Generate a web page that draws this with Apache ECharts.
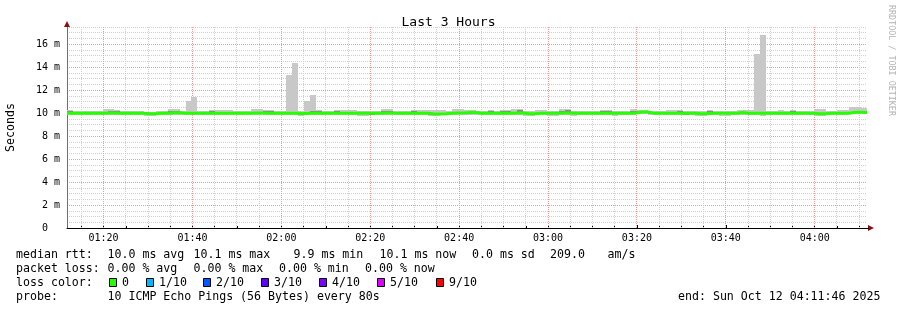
<!DOCTYPE html>
<html><head><meta charset="utf-8">
<script src="https://cdn.jsdelivr.net/npm/echarts@6/dist/echarts.min.js"></script>
<style>html,body{margin:0;padding:0;background:#fff}#c{width:897px;height:310px}</style>
</head><body><div id="c"></div>
<script>
// time window (seconds of day): 01:11:46 .. 04:11:46, 80 s steps
const startTime = '01:11:46';
const endTime = '04:11:46';
const stepSeconds = 80;

// median RTT per step (ms)
const medianRtt = [
10.0,10.0,10.0,10.0,9.98,10.0,10.02,10.02,10.0,10.0,
10.0,10.0,10.0,9.95,9.95,10.0,10.0,10.03,10.03,10.0,
10.0,10.0,10.0,10.0,10.0,10.0,10.0,10.0,10.0,10.0,
10.0,10.02,10.02,10.0,10.0,10.0,10.0,10.0,10.0,9.95,
10.0,10.0,10.0,10.0,10.0,10.0,10.0,10.0,10.0,9.98,
9.98,10.0,10.0,10.02,10.02,9.98,10.0,10.0,10.0,10.0,
10.0,9.93,9.93,9.95,10.0,10.02,10.02,10.05,10.05,10.0,
10.0,10.0,10.0,10.0,10.0,10.02,10.02,9.95,9.95,10.0,
10.0,10.0,10.0,10.02,10.02,10.0,10.0,10.0,10.0,10.0,
10.0,10.0,9.98,10.0,10.0,10.02,10.1,10.1,10.0,10.0,
10.0,10.0,10.0,10.0,9.98,10.0,9.95,9.95,10.0,10.0,
10.0,10.0,10.0,10.05,10.0,10.0,10.0,10.0,10.0,10.0,
10.0,10.0,10.0,10.0,10.0,10.0,9.95,9.95,10.0,10.0,
10.0,10.0,10.08,10.08,10.05];
// lowest ping per step (ms)
const pingMin = [
9.88,9.86,9.82,9.85,9.8,9.85,9.86,9.88,9.88,9.85,
9.82,9.82,9.86,9.78,9.78,9.85,9.86,9.88,9.88,9.86,
9.85,9.8,9.8,9.82,9.86,9.86,9.86,9.85,9.82,9.85,
9.82,9.88,9.88,9.86,9.86,9.85,9.86,9.86,9.85,9.76,
9.86,9.86,9.88,9.86,9.86,9.85,9.86,9.86,9.86,9.72,
9.72,9.8,9.82,9.88,9.88,9.85,9.8,9.86,9.86,9.88,
9.86,9.78,9.78,9.8,9.85,9.88,9.88,9.85,9.85,9.86,
9.86,9.88,9.85,9.86,9.86,9.88,9.88,9.78,9.78,9.85,
9.85,9.72,9.75,9.88,9.88,9.78,9.8,9.86,9.86,9.85,
9.86,9.86,9.76,9.85,9.86,9.88,9.9,9.9,9.82,9.82,
9.86,9.86,9.86,9.86,9.82,9.85,9.78,9.78,9.86,9.85,
9.78,9.78,9.8,9.88,9.86,9.86,9.8,9.76,9.82,9.82,
9.86,9.85,9.86,9.85,9.85,9.86,9.78,9.78,9.85,9.85,
9.86,9.86,9.9,9.9,9.9];
// highest ping per step (ms)
const pingMax = [
10.25,10.22,10.22,10.18,10.16,10.18,10.33,10.33,10.24,10.18,
10.18,10.18,10.22,10.12,10.12,10.2,10.18,10.4,10.4,10.22,
11.07,11.42,10.18,10.18,10.24,10.28,10.28,10.24,10.18,10.22,
10.18,10.38,10.38,10.26,10.25,10.2,10.2,13.33,14.37,10.18,
11.07,11.57,10.25,10.22,10.22,10.25,10.3,10.3,10.26,10.18,
10.18,10.2,10.2,10.38,10.38,10.18,10.18,10.22,10.25,10.28,
10.26,10.26,10.26,10.25,10.2,10.35,10.35,10.25,10.25,10.2,
10.22,10.3,10.2,10.28,10.28,10.4,10.4,10.18,10.18,10.3,
10.3,10.18,10.18,10.4,10.4,10.2,10.2,10.22,10.2,10.22,
10.28,10.28,10.18,10.2,10.22,10.4,10.28,10.28,10.2,10.2,
10.22,10.28,10.28,10.3,10.2,10.2,10.16,10.16,10.25,10.2,
10.18,10.18,10.18,10.26,10.3,10.3,15.19,16.78,10.2,10.2,
10.25,10.2,10.3,10.2,10.22,10.22,10.4,10.4,10.2,10.2,
10.3,10.3,10.55,10.55,10.45];
// inner (dense) smoke band per step (ms)
const innerLow = [
9.97,9.97,9.97,9.9,9.95,9.9,9.98,9.98,9.97,9.96,
9.9,9.9,9.97,9.9,9.9,9.92,9.96,9.98,9.98,9.97,
9.96,9.95,9.93,9.95,9.97,9.97,9.97,9.96,9.9,9.96,
9.9,9.98,9.98,9.97,9.97,9.96,9.96,9.97,9.96,9.88,
9.97,9.97,9.97,9.97,9.97,9.96,9.97,9.97,9.97,9.9,
9.9,9.88,9.92,9.98,9.98,9.92,9.95,9.97,9.97,9.97,
9.97,9.88,9.88,9.9,9.96,9.98,9.98,9.9,9.9,9.96,
9.96,9.97,9.96,9.97,9.97,9.98,9.98,9.9,9.9,9.92,
9.92,9.9,9.92,9.98,9.98,9.92,9.93,9.96,9.96,9.96,
9.97,9.97,9.9,9.96,9.96,9.9,9.98,9.98,9.9,9.9,
9.96,9.97,9.97,9.97,9.88,9.96,9.9,9.9,9.97,9.96,
9.92,9.92,9.94,9.98,9.97,9.97,9.95,9.93,9.9,9.9,
9.97,9.96,9.97,9.96,9.96,9.96,9.9,9.9,9.96,9.96,
9.97,9.97,9.98,9.98,9.98];
const innerHigh = [
10.18,10.05,10.05,10.03,10.02,10.03,10.12,10.2,10.16,10.04,
10.03,10.03,10.05,10.0,10.0,10.05,10.04,10.15,10.2,10.05,
10.05,10.05,10.04,10.04,10.15,10.06,10.06,10.12,10.03,10.05,
10.03,10.1,10.1,10.18,10.18,10.05,10.05,10.1,10.1,10.02,
10.08,10.15,10.18,10.1,10.1,10.18,10.12,10.12,10.1,10.03,
10.03,10.05,10.05,10.2,10.2,10.03,10.04,10.05,10.18,10.08,
10.06,10.03,10.03,10.05,10.05,10.1,10.1,10.1,10.1,10.05,
10.05,10.2,10.05,10.15,10.15,10.12,10.28,10.02,10.02,10.05,
10.05,10.03,10.03,10.15,10.28,10.05,10.05,10.05,10.05,10.05,
10.15,10.15,10.03,10.05,10.05,10.2,10.15,10.15,10.05,10.05,
10.05,10.08,10.08,10.2,10.04,10.05,10.02,10.02,10.18,10.05,
10.04,10.04,10.04,10.1,10.1,10.1,10.06,10.06,10.05,10.05,
10.12,10.05,10.18,10.05,10.05,10.05,10.05,10.05,10.05,10.05,
10.1,10.1,10.12,10.12,10.1];

const xLabelTimes = ['01:20','01:40','02:00','02:20','02:40','03:00','03:20','03:40','04:00'];
const xMinorGridTimes = ['01:15','01:25','01:30','01:35','01:45','01:50','01:55',
'02:05','02:10','02:15','02:25','02:30','02:35','02:45','02:50','02:55',
'03:05','03:10','03:15','03:25','03:30','03:35','03:45','03:50','03:55',
'04:05','04:10'];
const yMax = 17.5;
const yLabelStep = 2;
const yGridStep = 0.5;

const legendRtt = [['median rtt:',16],['10.0 ms avg',107.5],['10.1 ms max',193.5],['9.9 ms min',293.5],['10.1 ms now',379.5],['0.0 ms sd',472],['209.0',550],['am/s',607.5]];
const legendLoss = [['packet loss:',16],['0.00 % avg',107.5],['0.00 % max',193.5],['0.00 % min',279],['0.00 % now',365]];
const lossColorNames = ['0','1/10','2/10','3/10','4/10','5/10','9/10'];
const lossColors = ['#26ff00','#00b8ff','#0059ff','#5e00ff','#7e00ff','#dd00ff','#ff0000'];
const lossBoxX = [109,146,203,261,319,377,436];
const probeText = '10 ICMP Echo Pings (56 Bytes) every 80s';
const endText = 'end: Sun Oct 12 04:11:46 2025';

function toSec(s){const p=s.split(':').map(Number);return p[0]*3600+p[1]*60+(p[2]||0);}
function fmt(sec){const h=Math.floor(sec/3600),m=Math.floor((sec%3600)/60);return String(h).padStart(2,'0')+':'+String(m).padStart(2,'0');}
const t0 = toSec(startTime), t1 = toSec(endTime);

const MONO = "'DejaVu Sans Mono', monospace";
const chart = echarts.init(document.getElementById('c'), null, {renderer:'canvas'});

function bandSeries(lowArr, highArr, color, z){
  return {
    type:'custom', z:z, silent:true, animation:false, clip:true,
    encode:{x:[0,1], y:[2,3]},
    data: lowArr.map((lo,i)=>[t0+i*stepSeconds, t0+(i+1)*stepSeconds, lo, highArr[i]]),
    renderItem:(params, api)=>{
      const a = api.coord([api.value(0), api.value(3)]);
      const b = api.coord([api.value(1), api.value(2)]);
      const x0=Math.round(a[0]), x1=Math.round(b[0]), y0=Math.round(a[1]), y1=Math.round(b[1]);
      return {type:'rect', shape:{x:x0, y:y0, width:x1-x0, height:Math.max(1,y1-y0)}, style:{fill:color}};
    }
  };
}
// vertical grid lines at given times, drawn through the x scale
function vGridSeries(times, color, z){
  return {
    type:'custom', z:z, silent:true, animation:false,
    encode:{x:0},
    data: times.map(t=>[toSec(t)]),
    renderItem:(params, api)=>{
      const top = api.coord([api.value(0), yMax]);
      const bot = api.coord([api.value(0), 0]);
      const x = Math.floor(top[0]) + 0.5;
      return {type:'line', shape:{x1:x, y1:Math.round(bot[1]), x2:x, y2:Math.round(top[1])},
        style:{stroke:color, lineWidth:1, lineDash:[1,1]}};
    }
  };
}

const medData = medianRtt.map((v,i)=>[t0+i*stepSeconds, v]);
medData.push([t1, medianRtt[medianRtt.length-1]]);

const gray = '#d0d0d0', red = '#f29a9a';

chart.setOption({
  animation:false,
  backgroundColor:'#ffffff',
  title:{text:'Last 3 Hours', left:'center', top:11, textStyle:{fontFamily:MONO, fontSize:13, fontWeight:'normal', color:'#000'}},
  grid:{left:67, right:30, top:27, bottom:82, containLabel:false, outerBoundsMode:'none'},
  xAxis:[{
    type:'value', min:t0, max:t1,
    axisLine:{show:true, lineStyle:{color:'#000', width:1}},
    axisTick:{show:true, inside:true, length:2, lineStyle:{color:'#000'}, customValues:xMinorGridTimes.map(toSec)},
    axisLabel:{show:false},
    splitLine:{show:false}
  },{
    type:'value', min:t0, max:t1, position:'bottom',
    axisLine:{show:false},
    axisTick:{show:true, inside:true, length:3, lineStyle:{color:'#000'}, customValues:xLabelTimes.map(toSec)},
    axisLabel:{customValues:xLabelTimes.map(toSec), formatter:v=>fmt(v), fontFamily:MONO, fontSize:10, color:'#000', margin:5},
    splitLine:{show:false}
  }],
  yAxis:{
    type:'value', min:0, max:yMax, interval:yGridStep,
    name:'Seconds', nameLocation:'middle', nameRotate:90, nameGap:50,
    nameTextStyle:{fontFamily:MONO, fontSize:11.6, color:'#000'},
    axisLine:{show:true, lineStyle:{color:'#707070'}},
    axisTick:{show:false},
    axisLabel:{fontFamily:MONO, fontSize:10, color:'#000', margin:7,
      formatter:v=>{ if (Math.abs(v/yLabelStep - Math.round(v/yLabelStep))>1e-6) return ''; return v===0 ? '0  ' : v+' m'; }},
    splitLine:{show:true, showMaxLine:true, lineStyle:{color:[red,gray,gray,gray], type:[1,1], width:1}}
  },
  series:[
    vGridSeries(xMinorGridTimes, gray, 1),
    vGridSeries(xLabelTimes, red, 1),
    bandSeries(pingMin, pingMax, '#c8c8c8', 2),
    bandSeries(innerLow, innerHigh, '#8a8a8a', 3),
    {type:'line', z:5, step:'end', symbol:'none', silent:true, data:medData, lineStyle:{color:lossColors[0], width:3}}
  ]
});

// decorations placed through the chart's scales
const tip = chart.convertToPixel({gridIndex:0}, [t0, yMax]);
const xEnd = chart.convertToPixel({gridIndex:0}, [t1, 0]);
const g = [];
g.push({type:'polygon', shape:{points:[[tip[0],tip[1]-6],[tip[0]-3,tip[1]],[tip[0]+3,tip[1]]]}, style:{fill:'#8b1010'}, z:10});
g.push({type:'polygon', shape:{points:[[xEnd[0]+7,xEnd[1]],[xEnd[0]+1,xEnd[1]-3],[xEnd[0]+1,xEnd[1]+3]]}, style:{fill:'#8b1010'}, z:10});
g.push({type:'line', shape:{x1:xEnd[0], y1:xEnd[1]+0.5, x2:xEnd[0]+2, y2:xEnd[1]+0.5}, style:{stroke:'#000'}, z:10});
const rowY = [255, 269, 283, 297];
const textStyle = (t,x,y)=>({type:'text', x:x, y:y, z:10, style:{text:t, font:"11.6px 'DejaVu Sans Mono'", fill:'#000', verticalAlign:'middle'}});
legendRtt.forEach(([t,x])=>g.push(textStyle(t,x,rowY[0])));
legendLoss.forEach(([t,x])=>g.push(textStyle(t,x,rowY[1])));
g.push(textStyle('loss color:',16,rowY[2]));
lossColorNames.forEach((n,i)=>{
  g.push({type:'rect', z:10, shape:{x:lossBoxX[i]+0.5, y:rowY[2]-4.5, width:7, height:8}, style:{fill:lossColors[i], stroke:'#000', lineWidth:1}});
  g.push(textStyle(n, lossBoxX[i]+13, rowY[2]));
});
g.push(textStyle('probe:',16,rowY[3]));
g.push(textStyle(probeText,107.5,rowY[3]));
g.push(textStyle(endText,678,rowY[3]));
g.push({type:'text', x:891, y:5, rotation:-Math.PI/2, z:10, style:{text:'RRDTOOL / TOBI OETIKER', font:"8.4px 'DejaVu Sans Mono'", fill:'#b4b4b4', verticalAlign:'middle'}});
chart.setOption({graphic:g});
</script></body></html>
